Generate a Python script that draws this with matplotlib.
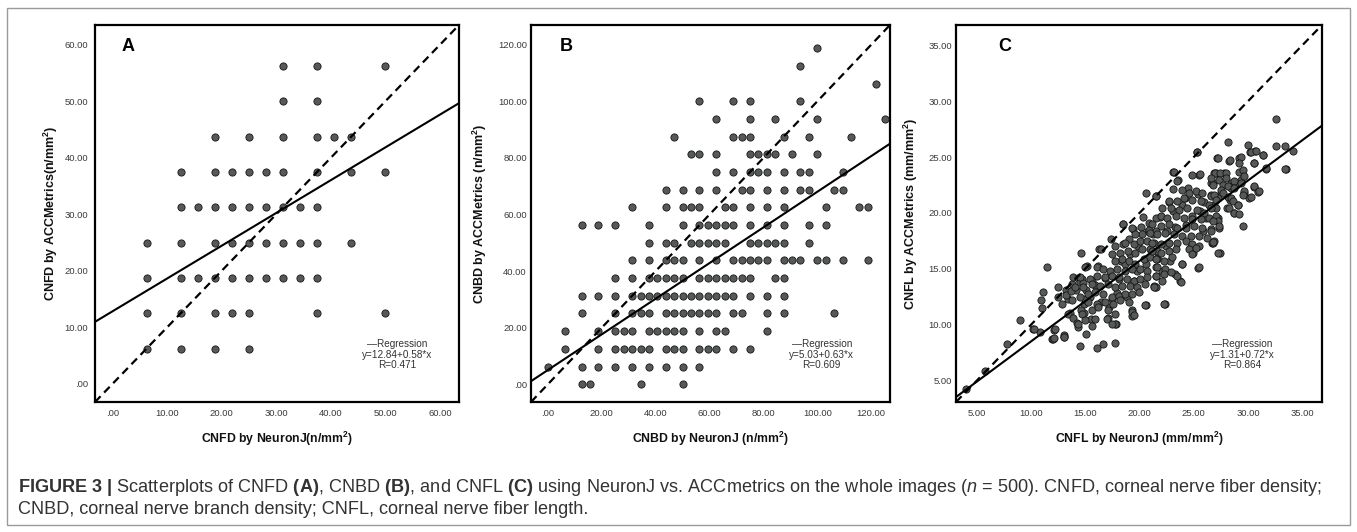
import matplotlib
matplotlib.use('Agg')
import matplotlib.pyplot as plt
from matplotlib.patches import Rectangle

plt.rcParams['font.family'] = ['Liberation Sans', 'DejaVu Sans']
plt.rcParams['mathtext.fontset'] = 'custom'
plt.rcParams['mathtext.rm'] = 'Liberation Sans'
plt.rcParams['mathtext.bf'] = 'Liberation Sans:bold'
plt.rcParams['mathtext.it'] = 'Liberation Sans:italic'

# ---------------- Panel A data (CNFD) ----------------
A_levels = [56.25, 50.0, 43.75, 37.5, 31.25, 25.0, 18.75, 12.5, 6.25]
A_x_by_level = [
    [31.25, 37.5, 50.0],
    [31.25, 37.5],
    [18.75, 25.0, 31.25, 37.5, 40.625, 43.75],
    [12.5, 18.75, 21.875, 25.0, 28.125, 31.25, 37.5, 43.75, 50.0],
    [12.5, 15.625, 18.75, 21.875, 25.0, 28.125, 31.25, 34.375, 37.5],
    [6.25, 12.5, 18.75, 21.875, 25.0, 28.125, 31.25, 34.375, 37.5, 43.75],
    [6.25, 12.5, 15.625, 18.75, 21.875, 25.0, 28.125, 31.25, 34.375, 37.5],
    [6.25, 12.5, 18.75, 21.875, 25.0, 37.5, 50.0],
    [6.25, 12.5, 18.75, 25.0],
]
A_reg = (12.84, 0.58)
A_r = 0.471

# ---------------- Panel B data (CNBD) ----------------
B_levels = [0.0, 6.25, 12.5, 18.75, 25.0, 31.25, 37.5, 43.75, 50.0, 56.25,
            62.5, 68.75, 75.0, 81.25, 87.5, 93.75, 100.0, 106.25, 112.5, 118.75]
B_x_by_level = [
    [12.5, 15.625, 34.375, 50.0],
    [0.0, 12.5, 18.75, 25.0, 31.25, 37.5, 43.75, 50.0, 56.25],
    [6.25, 18.75, 25.0, 28.125, 31.25, 34.375, 37.5, 43.75, 46.875, 50.0, 56.25, 59.375, 62.5, 68.75, 75.0],
    [6.25, 18.75, 25.0, 28.125, 31.25, 37.5, 40.625, 43.75, 46.875, 50.0, 56.25, 62.5, 65.625, 81.25],
    [12.5, 25.0, 31.25, 34.375, 37.5, 43.75, 46.875, 50.0, 53.125, 56.25, 59.375, 62.5, 68.75, 71.875, 81.25, 87.5, 106.25],
    [12.5, 18.75, 25.0, 31.25, 34.375, 37.5, 40.625, 43.75, 46.875, 50.0, 53.125, 56.25, 59.375, 62.5, 65.625, 68.75, 75.0, 81.25, 87.5],
    [25.0, 31.25, 37.5, 40.625, 43.75, 46.875, 50.0, 56.25, 59.375, 62.5, 65.625, 68.75, 71.875, 75.0, 84.375, 87.5],
    [31.25, 37.5, 43.75, 46.875, 50.0, 56.25, 62.5, 68.75, 71.875, 75.0, 78.125, 81.25, 87.5, 90.625, 93.75, 100.0, 103.125, 109.375, 118.75],
    [37.5, 43.75, 46.875, 53.125, 56.25, 59.375, 62.5, 65.625, 75.0, 78.125, 81.25, 84.375, 87.5, 96.875],
    [12.5, 18.75, 25.0, 37.5, 50.0, 56.25, 59.375, 62.5, 65.625, 68.75, 75.0, 81.25, 87.5, 96.875, 103.125],
    [31.25, 43.75, 50.0, 53.125, 56.25, 65.625, 68.75, 75.0, 81.25, 87.5, 103.125, 115.625, 118.75],
    [43.75, 50.0, 56.25, 62.5, 71.875, 75.0, 81.25, 87.5, 93.75, 96.875, 106.25, 109.375],
    [62.5, 68.75, 75.0, 78.125, 81.25, 87.5, 93.75, 96.875, 109.375],
    [53.125, 56.25, 62.5, 75.0, 78.125, 81.25, 84.375, 90.625, 100.0],
    [46.875, 68.75, 71.875, 75.0, 87.5, 96.875, 112.5],
    [62.5, 75.0, 84.375, 100.0, 125.0],
    [56.25, 68.75, 75.0, 93.75],
    [121.875],
    [93.75],
    [100.0],
]
B_reg = (5.03, 0.63)
B_r = 0.609

# ---------------- Panel C data (CNFL) ----------------
C_x = [
    4.0, 5.8, 7.75, 8.95, 10.2, 10.8, 11.05, 10.9, 11.1, 11.5, 11.9, 12.0, 12.1, 12.45, 12.5,
    12.9, 13.0, 13.0, 13.2, 13.4, 13.6, 13.75, 13.9, 14.15, 14.35, 14.5, 14.6, 14.7, 14.85, 14.85,
    15.1, 15.4, 15.2, 15.5, 15.6, 15.9, 16.05, 16.15, 16.3, 16.45, 16.6, 16.85, 17.05, 17.15, 17.3,
    17.4, 17.45, 17.75, 17.85, 17.95, 18.1, 18.3, 18.45, 18.5, 18.7, 18.85, 19.15, 19.3, 19.35, 19.4,
    19.45, 19.75, 19.9, 20.3, 20.55, 20.6, 20.6, 20.8, 21.2, 21.4, 21.5, 21.6, 21.85, 22.1, 22.3,
    22.4, 22.5, 22.7, 22.85, 23.1, 23.1, 23.25, 23.3, 23.5, 23.75, 23.9, 23.95, 24.15, 24.25, 24.45,
    24.7, 24.85, 24.9, 25.25, 25.35, 25.4, 25.5, 25.6, 25.8, 25.95, 26.1, 26.55, 26.7, 26.9, 27.0,
    27.1, 27.2, 27.35, 27.45, 27.5, 27.8, 28.05, 28.1, 28.25, 28.35, 28.4, 28.7, 28.9, 29.05, 29.2,
    29.3, 29.35, 29.5, 29.65, 29.95, 30.1, 30.2, 30.5, 30.5, 30.65, 30.9, 31.35, 31.65, 32.6, 32.6,
    33.35, 33.45, 34.1,
    # lower-left band
    13.2, 13.7, 14.05, 14.36, 14.5, 13.74, 13.37, 13.9, 14.2, 14.36, 14.6, 14.98, 15.07, 14.8, 12.2,
    12.1, 10.3, 13.06,
    # centre cluster (left)
    18.44, 19.3, 20.11, 20.91, 21.53, 20.91, 20.23, 19.55, 18.99, 21.47, 17.76, 18.69, 19.46, 20.08, 20.69,
    21.31, 17.45, 18.22, 18.93, 19.61, 20.23, 21.0, 21.62, 16.46, 14.98, 16.06, 16.68, 17.76, 18.38, 18.99,
    19.61, 20.38, 21.0, 21.62, 17.91, 18.69, 19.3, 20.08, 20.69, 21.47, 14.52, 15.44, 16.06, 16.83, 17.45,
    18.07, 18.84, 19.46, 20.08, 20.69, 21.47, 14.82, 15.6, 16.37, 17.14, 17.76, 18.38, 19.15, 19.77, 20.54,
    21.31, 14.52, 15.29, 15.91, 16.68, 17.45, 18.07, 18.69, 19.3, 19.92, 15.29, 16.06, 16.83, 17.6, 18.22,
    18.99, 20.54, 21.47, 14.67, 15.6, 16.21, 17.14, 17.76, 14.98, 15.91, 16.99, 17.76, 19.3, 19.46, 15.6,
    17.45,
    # centre cluster (right)
    25.33, 27.18, 23.16, 24.86, 25.54, 26.87, 23.47, 26.72, 21.47, 23.07, 23.94, 24.56, 25.17, 25.79, 26.56,
    27.18, 22.7, 23.47, 24.09, 24.86, 25.64, 26.41, 27.03, 22.08, 22.86, 23.63, 24.4, 25.33, 25.95, 21.93,
    22.55, 23.32, 24.09, 24.86, 25.64, 26.41, 27.03, 21.16, 21.93, 22.7, 23.47, 24.25, 25.02, 25.79, 26.56,
    21.0, 21.62, 22.39, 23.16, 23.94, 24.71, 25.48, 26.25, 26.87, 21.16, 21.93, 22.7, 23.47, 24.25, 24.86,
    25.48, 26.72, 21.16, 21.93, 22.7, 23.32, 24.56, 25.17, 21.47, 22.24, 23.01, 24.86, 27.18, 21.62, 22.39,
    23.94, 25.48, 21.47, 22.24, 22.86, 23.47, 22.08, 21.31, 23.78, 22.24,
    # upper-right
    30.27, 30.73, 31.35, 28.36, 29.34, 29.19, 30.52, 31.66, 33.42, 26.96, 27.4, 27.95, 29.19, 29.5, 29.65,
    26.56, 27.34, 27.95, 28.42, 28.73, 29.34, 26.72, 27.64, 28.11, 30.58, 31.04, 27.49, 28.73, 29.65, 30.27,
    26.56, 26.87, 27.64, 28.11, 28.42, 29.5, 27.03, 28.57, 29.03, 28.26, 28.73, 29.13, 26.56, 27.03, 27.18,
    27.34, 26.72, 26.56, 26.78,
]
C_y = [
    4.3, 5.9, 8.25, 10.4, 9.6, 9.4, 11.5, 12.2, 12.9, 15.2, 8.7, 8.7, 9.5, 13.35, 12.5,
    11.9, 9.1, 8.9, 13.1, 12.3, 11.1, 13.65, 14.3, 13.1, 9.8, 8.1, 16.4, 14.1, 11.9, 11.05,
    9.2, 12.5, 15.3, 10.55, 13.9, 13.6, 7.9, 15.3, 16.75, 12.0, 8.25, 14.15, 10.6, 11.6, 14.8,
    17.7, 12.3, 8.35, 10.1, 12.8, 14.1, 15.7, 19.0, 17.2, 15.4, 12.5, 16.3, 10.8, 11.3, 18.6,
    13.95, 14.85, 17.05, 19.6, 11.75, 21.8, 15.4, 18.4, 18.1, 13.4, 21.5, 16.0, 19.6, 14.8, 11.9,
    17.05, 18.4, 21.0, 15.7, 23.7, 20.2, 14.55, 18.7, 22.95, 13.95, 20.7, 15.4, 21.3, 18.95, 22.2,
    16.95, 19.7, 16.4, 25.45, 21.7, 15.1, 23.4, 20.15, 18.4, 21.0, 19.55, 22.65, 17.35, 20.7, 23.55,
    24.9, 19.55, 18.65, 16.4, 21.8, 23.55, 20.45, 26.35, 24.6, 21.15, 22.2, 20.0, 22.5, 20.7, 24.95,
    23.7, 22.95, 18.8, 21.8, 26.1, 21.3, 25.45, 24.45, 22.35, 25.5, 21.9, 25.15, 23.95, 28.4, 25.95,
    25.95, 23.95, 25.55,
    # lower-left band
    12.7, 13.0, 13.4, 14.2, 13.8, 12.2, 10.95, 10.6, 10.2, 10.05, 11.3, 12.3, 13.1, 13.7, 9.6,
    8.8, 9.6, 8.9,
    # centre cluster (left)
    19.03, 18.68, 18.74, 19.12, 19.57, 18.44, 18.09, 18.09, 17.64, 18.38, 17.05, 17.35, 17.2, 17.5, 17.5,
    17.35, 16.31, 16.46, 16.61, 16.46, 16.76, 16.76, 16.61, 16.82, 15.19, 15.19, 14.99, 15.72, 15.87, 15.72,
    15.43, 15.87, 16.02, 15.87, 14.99, 14.84, 14.99, 14.99, 14.84, 15.13, 14.25, 14.1, 14.39, 14.25, 14.39,
    14.25, 14.1, 13.95, 14.1, 14.25, 14.39, 13.36, 13.66, 13.51, 13.66, 13.36, 13.51, 13.51, 13.36, 13.66,
    13.51, 12.47, 12.77, 12.92, 12.77, 12.47, 12.62, 12.77, 12.77, 12.92, 12.03, 11.88, 12.03, 11.88, 12.18,
    12.03, 11.73, 13.36, 10.99, 11.29, 11.59, 11.29, 10.99, 10.4, 10.55, 10.55, 10.11, 11.14, 10.85, 9.87,
    10.11,
    # centre cluster (right)
    25.47, 24.88, 23.7, 23.41, 23.47, 23.55, 22.82, 22.67, 21.49, 22.17, 22.08, 21.78, 21.93, 21.78, 21.63,
    21.34, 21.04, 21.04, 21.34, 21.19, 21.04, 20.75, 20.45, 20.45, 20.45, 20.3, 20.45, 20.3, 20.01, 19.71,
    19.57, 19.71, 19.57, 19.42, 19.42, 19.57, 19.42, 18.97, 18.83, 18.97, 18.68, 18.68, 18.83, 18.68, 18.53,
    18.24, 18.09, 18.24, 18.09, 17.94, 17.94, 17.94, 17.79, 17.5, 17.35, 17.2, 17.35, 17.35, 17.5, 17.2,
    17.05, 17.35, 16.61, 16.46, 16.61, 16.76, 16.76, 16.91, 15.87, 15.72, 16.02, 16.31, 16.46, 15.13, 14.99,
    15.43, 15.13, 14.39, 14.54, 14.69, 14.39, 13.95, 13.36, 13.8, 11.88,
    # upper-right
    25.48, 25.56, 25.18, 24.74, 25.03, 24.44, 24.5, 24.0, 23.94, 23.55, 23.55, 23.55, 23.7, 23.85, 23.26,
    23.11, 22.96, 23.11, 22.67, 22.88, 22.67, 22.52, 22.52, 22.37, 22.37, 21.93, 22.08, 22.23, 21.93, 21.4,
    21.49, 21.63, 21.78, 21.4, 21.34, 21.63, 21.19, 21.04, 20.75, 20.45, 20.01, 19.92, 20.45, 19.71, 19.27,
    18.83, 19.27, 18.38, 17.44,
]
C_reg = (1.31, 0.72)
C_r = 0.864

# ---------------- Figure ----------------
W, H = 1357, 532
fig = plt.figure(figsize=(W / 100, H / 100), dpi=100)

# outer frame
fig.patches.append(Rectangle((7 / W, 1 - 525 / H), (1350 - 7) / W, (525 - 8) / H,
                             transform=fig.transFigure, fill=False,
                             edgecolor='#9a9a9a', linewidth=1.0))

DOT_FACE = '#555a58'
TICK_COLOR = '#3a3a3a'


def expand(levels, xs_by_level):
    xs, ys = [], []
    for lev, row in zip(levels, xs_by_level):
        for v in row:
            xs.append(v)
            ys.append(lev)
    return xs, ys


def panel(rect, xs, ys, lim, ticks, ticklabels, xlabel, ylabel, letter, letter_x,
          reg, ylabel_x, ypad):
    ax = fig.add_axes(rect)
    ax.scatter(xs, ys, s=27, c=DOT_FACE, edgecolors='#151515', linewidths=0.6, zorder=3)
    ax.plot(lim, lim, color='black', lw=1.6, ls=(0, (3.6, 2.3)), zorder=4)
    a, b = reg
    ax.plot(lim, [a + b * lim[0], a + b * lim[1]], color='black', lw=1.5, zorder=4)
    ax.set_xlim(lim)
    ax.set_ylim(lim)
    ax.set_xticks(ticks)
    ax.set_xticklabels(ticklabels)
    ax.set_yticks(ticks)
    ax.set_yticklabels(ticklabels)
    ax.tick_params(axis='both', length=0, labelsize=6.8, colors=TICK_COLOR)
    ax.tick_params(axis='x', pad=5)
    ax.tick_params(axis='y', pad=ypad)
    for sp in ax.spines.values():
        sp.set_linewidth(1.6)
        sp.set_color('black')
    ax.set_xlabel(xlabel, fontsize=8.8, fontweight='bold', color='#111')
    ax.set_ylabel(ylabel, fontsize=9.0, fontweight='bold', color='#111')
    ax.xaxis.set_label_coords(0.5, -0.074)
    ax.yaxis.set_label_coords(ylabel_x, 0.5)
    ax.text(letter_x, 0.942, letter, transform=ax.transAxes, fontsize=13,
            fontweight='bold', ha='center', va='center')
    return ax


top = 1 - 25 / H
bottom = 1 - 402 / H
h = top - bottom

A_xs, A_ys = expand(A_levels, A_x_by_level)
B_xs, B_ys = expand(B_levels, B_x_by_level)

axA = panel([95 / W, bottom, 364 / W, h], A_xs, A_ys, (-3.2, 63.5),
            [0, 10, 20, 30, 40, 50, 60],
            ['.00', '10.00', '20.00', '30.00', '40.00', '50.00', '60.00'],
            r'CNFD by NeuronJ(n/mm$^{\mathbf{2}}$)',
            r'CNFD by ACCMetrics(n/mm$^{\mathbf{2}}$)', 'A', 0.09, A_reg, -0.097, 5)
axB = panel([531 / W, bottom, 359 / W, h], B_xs, B_ys, (-6.3, 127.0),
            [0, 20, 40, 60, 80, 100, 120],
            ['.00', '20.00', '40.00', '60.00', '80.00', '100.00', '120.00'],
            r'CNBD by NeuronJ (n/mm$^{\mathbf{2}}$)',
            r'CNBD by ACCMetrics (n/mm$^{\mathbf{2}}$)', 'B', 0.098, B_reg, -0.117, 3)
axC = panel([956 / W, bottom, 366 / W, h], C_x, C_y, (3.1, 36.8),
            [5, 10, 15, 20, 25, 30, 35],
            ['5.00', '10.00', '15.00', '20.00', '25.00', '30.00', '35.00'],
            r'CNFL by NeuronJ (mm/mm$^{\mathbf{2}}$)',
            r'CNFL by ACCMetrics (mm/mm$^{\mathbf{2}}$)', 'C', 0.132, C_reg, -0.097, 3)

for ax, reg, r, xpos in [(axA, A_reg, A_r, 0.829), (axB, B_reg, B_r, 0.81), (axC, C_reg, C_r, 0.781)]:
    txt = '\u2014Regression\ny={:.2f}+{:.2f}*x\nR={:.3f}'.format(reg[0], reg[1], r)
    ax.text(xpos, 0.125, txt, transform=ax.transAxes, ha='center', va='center',
            multialignment='center', fontsize=7.2, color='#333', linespacing=1.05)

# caption
cap1 = (r'$\mathbf{FIGURE\ 3\ |}$ Scatterplots of CNFD $\mathbf{(A)}$, CNBD $\mathbf{(B)}$, '
        r'and CNFL $\mathbf{(C)}$ using NeuronJ vs. ACCmetrics on the whole images '
        r'($\mathit{n}$ = 500). CNFD, corneal nerve fiber density;')
cap2 = 'CNBD, corneal nerve branch density; CNFL, corneal nerve fiber length.'
fig.text(18 / W, 1 - 487 / H, cap1, fontsize=13.05, color='#333', ha='left', va='center')
fig.text(18 / W, 1 - 509 / H, cap2, fontsize=13.05, color='#333', ha='left', va='center')

fig.savefig('out.png', dpi=100)
